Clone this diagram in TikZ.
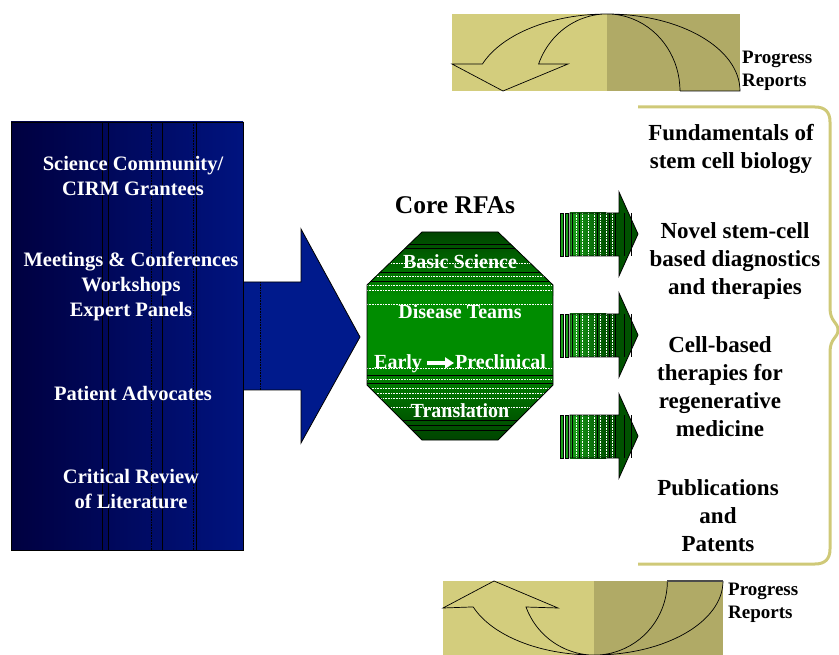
\documentclass[tikz,border=0pt]{standalone}
\usepackage{fontspec}
\setmainfont{Liberation Serif}
\usepackage{tikz}
\usetikzlibrary{arrows.meta}
\definecolor{bleuNuit}{HTML}{000040}
\definecolor{bleuClair}{HTML}{00137F}
\definecolor{bleuFleche}{HTML}{001A8C}
\definecolor{vertFonce}{HTML}{004400}
\definecolor{vertClair}{HTML}{008C00}
\definecolor{vertFleche}{HTML}{005200}
\definecolor{vertVif}{HTML}{1AA01A}
\definecolor{oliveClair}{HTML}{D3CD7D}
\definecolor{oliveFonce}{HTML}{B0AA66}
\definecolor{oliveTrait}{HTML}{CFC978}

\begin{document}
\begin{tikzpicture}[x=1pt,y=-1pt]
    % Styles
    \tikzstyle{contour}=[draw=black,line width=0.8pt]
    \tikzstyle{trait}=[black,line width=0.7pt]
    \tikzstyle{pointille}=[black,densely dotted,line width=0.6pt]
    \tikzstyle{strie}=[white,densely dotted,line width=0.6pt]
    \tikzstyle{source}=[text=white,font=\bfseries\fontsize{20.5}{25}\selectfont,align=center,inner sep=0pt]
    \tikzstyle{rfa}=[text=white,font=\bfseries\fontsize{20}{24}\selectfont,inner sep=0pt]
    \tikzstyle{titre}=[text=black,font=\bfseries\fontsize{25.5}{30}\selectfont,inner sep=0pt]
    \tikzstyle{resultat}=[text=black,font=\bfseries\fontsize{23}{28}\selectfont,align=center,inner sep=0pt]
    \tikzstyle{rapport}=[text=black,font=\bfseries\fontsize{19}{23}\selectfont,align=left,inner sep=0pt,anchor=west]
    \tikzstyle{accolade}=[draw=oliveTrait,line width=3pt]
    \tikzstyle{etape}=[white,line width=3.5pt,-{Triangle[length=9pt,width=11pt]}]
    % Cadre
    \useasboundingbox (0,0) rectangle (839,655);

    % Sources
    \shade[left color=bleuNuit,right color=bleuClair] (11,122) rectangle (243,550);
    \foreach \xx in {102,108,162,196} \draw[trait] (\xx,122) -- (\xx,550);
    \foreach \xx in {151,193} \draw[pointille] (\xx,122) -- (\xx,550);
    \draw[contour] (11,122) rectangle (243,550);
    \node[source] (communaute) at (133,175.5) {Science Community/\\CIRM Grantees};
    \node[source] (reunions) at (131,286) {Meetings \& Conferences\\Workshops\\Expert Panels};
    \node[source] (patients) at (133,393) {Patient Advocates};
    \node[source] (litterature) at (131,489.5) {Critical Review\\of Literature};

    % Grande fleche
    \fill[bleuFleche] (243,282) -- (301,282) -- (301,229) -- (360,337) -- (301,443) -- (301,390) -- (243,390) -- cycle;
    \draw[contour] (243,282) -- (301,282) -- (301,229) -- (360,337) -- (301,443) -- (301,390) -- (243,390);
    \draw[trait] (243,282) -- (243,390);
    \draw[pointille] (260,282) -- (260,390);

    % Octogone
    \coordinate (o1) at (422,232);
    \coordinate (o2) at (498,232);
    \coordinate (o3) at (553,285);
    \coordinate (o4) at (553,385);
    \coordinate (o5) at (498,440);
    \coordinate (o6) at (422,440);
    \coordinate (o7) at (367,385);
    \coordinate (o8) at (367,285);
    \begin{scope}
        \clip (o1) -- (o2) -- (o3) -- (o4) -- (o5) -- (o6) -- (o7) -- (o8) -- cycle;
        \fill[vertClair] (367,232) rectangle (553,440);
        \shade[top color=vertFonce,bottom color=vertClair] (367,232) rectangle (553,296);
        \shade[top color=vertClair,bottom color=vertFonce] (367,362) rectangle (553,440);
        \foreach \yy in {244,248,272,281,375,383,420,425,430} \draw[trait] (367,\yy) -- (553,\yy);
        \foreach \yy in {263,276,285,290,304,368,379,388,393,398,407} \draw[strie] (367,\yy) -- (553,\yy);
    \end{scope}
    \draw[contour] (o1) -- (o2) -- (o3) -- (o4) -- (o5) -- (o6) -- (o7) -- (o8) -- cycle;
    \node[titre] (rfa) at (455,205) {Core RFAs};
    \node[rfa] (basique) at (460,262) {Basic Science};
    \node[rfa] (maladie) at (460,312) {Disease Teams};
    \node[rfa,anchor=base west] (precoce) at (374,369) {Early};
    \node[rfa,anchor=base west] (preclinique) at (455,369) {Preclinical};
    \draw[etape] ([xshift=5pt,yshift=6pt]precoce.base east) -- ([xshift=-1pt,yshift=6pt]preclinique.base west);
    \node[rfa] (translation) at (460,411) {Translation};

    % Petites fleches
    \foreach \c in {234,335,436}{
        \fill[vertFleche] (570,{\c-21}) -- (619,{\c-21}) -- (619,{\c-42}) -- (638,\c) -- (619,{\c+42}) -- (619,{\c+22}) -- (570,{\c+22}) -- cycle;
        \shade[left color=vertVif,right color=vertFleche] (570,{\c-21}) rectangle (606,{\c+22});
        \foreach \xx in {572,579,597,609,615} \draw[trait,line width=0.5pt] (\xx,{\c-21}) -- (\xx,{\c+22});
        \foreach \xx in {576,582,588,594,600,606,612} \draw[strie] (\xx,{\c-21}) -- (\xx,{\c+22});
        \foreach \xx in {624,631} \draw[trait,line width=0.5pt] (\xx,{\c-21}) -- (\xx,{\c+22});
        \fill[vertVif,draw=black,line width=0.5pt] (560.5,{\c-21}) rectangle (563,{\c+22});
        \fill[vertVif,draw=black,line width=0.5pt] (565,{\c-21}) rectangle (568,{\c+22});
        \draw[contour] (570,{\c-21}) -- (619,{\c-21}) -- (619,{\c-42}) -- (638,\c) -- (619,{\c+42}) -- (619,{\c+22}) -- (570,{\c+22}) -- cycle;
    }

    % Accolade et resultats
    \draw[accolade] (638,107) -- (815,107) .. controls (825,107) and (830,112) .. (830,122) -- (830,308)
        .. controls (830,322) and (838,322) .. (838,330) .. controls (838,338) and (830,338) .. (830,352)
        -- (830,549) .. controls (830,559) and (825,564) .. (815,564) -- (638,564);
    \node[resultat] (fondamentaux) at (731,149) {Fundamentals of\\stem cell biology};
    \node[resultat] (diagnostics) at (735,261) {Novel stem-cell\\based diagnostics\\and therapies};
    \node[resultat] (therapies) at (720,386.5) {Cell-based\\therapies for\\regenerative\\medicine};
    \node[resultat] (publications) at (718,516) {Publications\\and\\Patents};

    % Rapports d'avancement (haut)
    \fill[oliveClair] (452,14) rectangle (607,91);
    \fill[oliveFonce] (607,14) rectangle (740,91);
    \draw[black,line width=0.7pt] (680,91) -- (740,91) arc[start angle=0,end angle=-159.5,x radius=133,y radius=77]
        -- (452,64) -- (503,91) -- (568,64) -- (538.6,64) arc[start angle=-159.5,end angle=0,x radius=73,y radius=77];
    \node[rapport] (rapportHaut) at (742,70.5) {Progress\\Reports};

    % Rapports d'avancement (bas)
    \fill[oliveClair] (443,581) rectangle (594,655);
    \fill[oliveFonce] (594,581) rectangle (723,655);
    \draw[black,line width=0.7pt] (723,581) arc[start angle=0,end angle=159.5,x radius=129,y radius=74]
        -- (443,608) -- (494,581) -- (558,608) -- (526,607) arc[start angle=159.5,end angle=0,x radius=73,y radius=74];
    \draw[black!70,line width=1.2pt] (667,581) -- (723,581);
    \node[rapport] (rapportBas) at (728,602.5) {Progress\\Reports};
\end{tikzpicture}
\end{document}
